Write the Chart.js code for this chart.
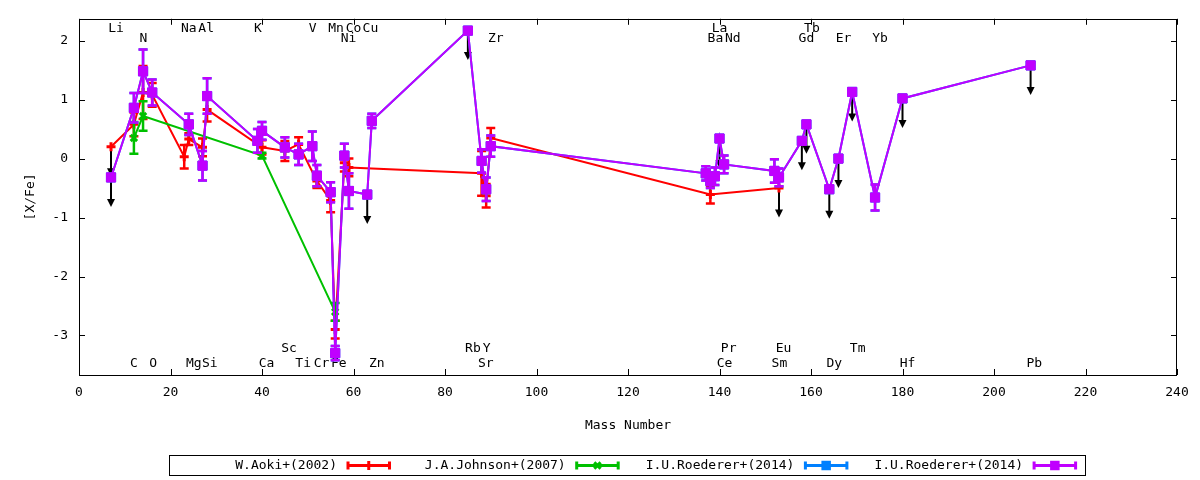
<!DOCTYPE html>
<html>
<head>
<meta charset="utf-8">
<script src="https://cdn.jsdelivr.net/npm/chart.js@4.4.1/dist/chart.umd.min.js"></script>
<style>
html,body{margin:0;padding:0;background:#fff;}
#wrap{width:1200px;height:480px;position:relative;}
</style>
</head>
<body>
<div id="wrap"><canvas id="c" width="1200" height="480"></canvas></div>
<script>
// ---------- texts & ticks ----------
const xTitle = 'Mass Number';
const yTitle = '[X/Fe]';
const xTicks = [0, 20, 40, 60, 80, 100, 120, 140, 160, 180, 200, 220, 240];
const yTicks = [-3, -2, -1, 0, 1, 2];
const seriesNames = ['W.Aoki+(2002)', 'J.A.Johnson+(2007)', 'I.U.Roederer+(2014)', 'I.U.Roederer+(2014)'];

// ---------- W.Aoki+(2002) ----------
const aokiMass   = [7, 12, 14, 16, 23, 24, 27, 28, 40, 45, 48, 52, 55, 56, 58, 59, 88, 89, 90, 138, 153];
const aokiVal    = [0.20, 0.58, 1.12, 1.08, 0.03, 0.33, 0.19, 0.83, 0.19, 0.13, 0.24, -0.38, -0.71, -2.90, -0.07, -0.15, -0.25, -0.63, 0.35, -0.61, -0.50];
const aokiErr    = [0, 0.20, 0.45, 0.20, 0.20, 0.10, 0.15, 0.20, 0.12, 0.17, 0.12, 0.12, 0.20, 0.15, 0.15, 0.15, 0.38, 0.20, 0.17, 0.15, 0];
const aokiLimits = [7, 153];

// ---------- J.A.Johnson+(2007) ----------
const johnsonMass = [12, 14, 40, 56];
const johnsonVal  = [0.35, 0.72, 0.05, -2.60];
const johnsonErr  = [0.27, 0.25, 0.05, 0.15];

// ---------- I.U.Roederer+(2014) ----------
const roedMass = [7, 12, 14, 16, 24, 27, 28, 39, 40, 45, 48, 51, 52, 55, 56, 58, 59, 63, 64,
                  85, 88, 89, 90, 137, 138, 139, 140, 141, 152, 153, 158, 159, 164, 166, 169, 174, 180, 208];
const roedVal  = [-0.32, 0.86, 1.48, 1.12, 0.58, -0.12, 1.06, 0.30, 0.47, 0.19, 0.07, 0.21, -0.29, -0.57, -3.30, 0.05, -0.55, -0.61, 0.64,
                  2.17, -0.04, -0.52, 0.21, -0.25, -0.38, -0.30, 0.34, -0.10, -0.21, -0.32, 0.30, 0.58, -0.52, 0.00, 1.13, -0.66, 1.02, 1.58];
const roedErr  = [0, 0.25, 0.37, 0.22, 0.18, 0.25, 0.30, 0.20, 0.15, 0.17, 0.18, 0.25, 0.18, 0.17, 0.12, 0.20, 0.30, 0, 0.12,
                  0, 0.20, 0.20, 0.18, 0.12, 0.12, 0.15, 0, 0.15, 0.20, 0.15, 0, 0, 0, 0, 0, 0.22, 0, 0];
const roedLimits = [7, 63, 85, 140, 158, 159, 164, 166, 169, 180, 208];

// ---------- element labels ----------
const elemNames = ['Li','Na','Al','K','V','Mn','Co','Cu','La','Tb',
                   'N','Ni','Zr','Ba','Nd','Gd','Er','Yb',
                   'Sc','Rb','Y','Pr','Eu','Tm',
                   'C','O','Mg','Si','Ca','Ti','Cr','Fe','Zn','Sr','Ce','Sm','Dy','Hf','Pb'];
const elemMass  = [8.1, 24.0, 27.8, 39.1, 51.1, 56.2, 60.0, 63.7, 140.0, 160.2,
                   14.1, 58.9, 91.1, 139.1, 142.9, 159.0, 167.1, 175.1,
                   45.9, 86.1, 89.1, 142.0, 154.0, 170.2,
                   12.0, 16.2, 25.1, 28.6, 41.0, 49.0, 53.0, 56.8, 65.1, 88.9, 141.1, 153.1, 165.1, 181.1, 208.8];
const elemLevel = [2.20, 2.20, 2.20, 2.20, 2.20, 2.20, 2.20, 2.20, 2.20, 2.20,
                   2.03, 2.03, 2.03, 2.03, 2.03, 2.03, 2.03, 2.03,
                   -3.23, -3.23, -3.23, -3.23, -3.23, -3.23,
                   -3.48, -3.48, -3.48, -3.48, -3.48, -3.48, -3.48, -3.48, -3.48, -3.48, -3.48, -3.48, -3.48, -3.48, -3.48];

const FONT = '"DejaVu Sans Mono", "Liberation Mono", monospace';
const pts = (m, v) => m.map((x, i) => ({x: x, y: v[i]}));

function mkSet(label, color, style, radius, m, v, e, lim, order) {
  return {
    label: label, data: pts(m, v), errors: e, limits: lim,
    showLine: true, tension: 0, fill: false,
    borderColor: color, backgroundColor: color, borderWidth: 2,
    pointStyle: style, pointRadius: radius, pointHoverRadius: radius,
    pointBorderColor: color, pointBackgroundColor: color,
    pointBorderWidth: style === 'rect' ? 1 : 3,
    order: order
  };
}

function drawMarker(ctx, style, color, cx, cy, r) {
  ctx.save();
  ctx.fillStyle = color; ctx.strokeStyle = color;
  if (style === 'rect') {
    const s = r * Math.SQRT1_2;
    ctx.fillRect(cx - s - 0.5, cy - s - 0.5, 2 * s + 1, 2 * s + 1);
  } else {
    ctx.lineWidth = 3;
    ctx.beginPath();
    if (style === 'cross') {
      ctx.moveTo(cx - r, cy); ctx.lineTo(cx + r, cy);
      ctx.moveTo(cx, cy - r); ctx.lineTo(cx, cy + r);
    } else {
      const d = r * Math.SQRT1_2;
      ctx.moveTo(cx - d, cy - d); ctx.lineTo(cx + d, cy + d);
      ctx.moveTo(cx - d, cy + d); ctx.lineTo(cx + d, cy - d);
    }
    ctx.stroke();
  }
  ctx.restore();
}

const ARROW_LEN = 0.5;

const gp = {
  id: 'gp',
  beforeDatasetsDraw(chart) {
    const ctx = chart.ctx, xs = chart.scales.x, ys = chart.scales.y;
    ctx.save();
    ctx.font = '13px ' + FONT;
    ctx.fillStyle = '#000';
    ctx.textAlign = 'center';
    ctx.textBaseline = 'middle';
    elemNames.forEach((n, i) => {
      ctx.fillText(n, xs.getPixelForValue(elemMass[i]), ys.getPixelForValue(elemLevel[i]));
    });
    // upper-limit arrows (behind the data)
    ctx.strokeStyle = '#000'; ctx.fillStyle = '#000'; ctx.lineWidth = 2;
    chart.data.datasets.forEach(ds => {
      (ds.limits || []).forEach(m => {
        const p = ds.data.find(d => d.x === m);
        if (!p) return;
        const px = xs.getPixelForValue(p.x);
        const y0 = ys.getPixelForValue(p.y);
        const y1 = ys.getPixelForValue(p.y - ARROW_LEN);
        ctx.beginPath(); ctx.moveTo(px, y0); ctx.lineTo(px, y1 - 6); ctx.stroke();
        ctx.beginPath();
        ctx.moveTo(px, y1); ctx.lineTo(px - 4, y1 - 8); ctx.lineTo(px + 4, y1 - 8); ctx.closePath();
        ctx.fill();
      });
    });
    ctx.restore();
  },
  beforeDatasetDraw(chart, args) {
    const ds = chart.data.datasets[args.index];
    if (!ds.errors) return;
    const ctx = chart.ctx, xs = chart.scales.x, ys = chart.scales.y;
    ctx.save();
    ctx.strokeStyle = ds.borderColor;
    ctx.lineWidth = 2.5;
    ctx.lineCap = 'butt';
    ds.data.forEach((p, i) => {
      const e = ds.errors[i];
      if (!e) return;
      const px = xs.getPixelForValue(p.x);
      const yt = ys.getPixelForValue(p.y + e);
      const yb = ys.getPixelForValue(p.y - e);
      ctx.beginPath();
      ctx.moveTo(px, yt); ctx.lineTo(px, yb);
      ctx.moveTo(px - 4.5, yt); ctx.lineTo(px + 4.5, yt);
      ctx.moveTo(px - 4.5, yb); ctx.lineTo(px + 4.5, yb);
      ctx.stroke();
    });
    ctx.restore();
  },
  afterDatasetsDraw(chart) {
    const ctx = chart.ctx, a = chart.chartArea, xs = chart.scales.x, ys = chart.scales.y;
    ctx.save();
    ctx.strokeStyle = '#000'; ctx.lineWidth = 1;
    ctx.strokeRect(Math.round(a.left) + 0.5, Math.round(a.top) + 0.5, Math.round(a.right - a.left) - 1, Math.round(a.bottom - a.top));
    ctx.beginPath();
    const T = 6;
    xTicks.forEach(v => {
      const px = Math.round(xs.getPixelForValue(v)) + 0.5;
      ctx.moveTo(px, a.bottom); ctx.lineTo(px, a.bottom - T);
      ctx.moveTo(px, a.top); ctx.lineTo(px, a.top + T);
    });
    yTicks.forEach(v => {
      const py = Math.round(ys.getPixelForValue(v)) + 0.5;
      ctx.moveTo(a.left, py); ctx.lineTo(a.left + T, py);
      ctx.moveTo(a.right, py); ctx.lineTo(a.right - T, py);
    });
    ctx.stroke();
    ctx.restore();
  },
  afterDraw(chart) {
    // key box below the plot (gnuplot style: text, then sample)
    const ctx = chart.ctx;
    const boxL = 169.5, boxR = 1085.5, boxT = 455.5, boxB = 475.5;
    const first = 347, step = 228.7, len = 43.5, cy = 465.5;
    ctx.save();
    ctx.strokeStyle = '#000'; ctx.lineWidth = 1;
    ctx.strokeRect(boxL, boxT, boxR - boxL, boxB - boxT);
    ctx.font = '13px ' + FONT;
    ctx.textAlign = 'right'; ctx.textBaseline = 'middle'; ctx.fillStyle = '#000';
    chart.data.datasets.forEach((ds, i) => {
      const sx = first + step * i;
      ctx.fillStyle = '#000';
      ctx.fillText(ds.label, sx - 10, cy);
      ctx.strokeStyle = ds.borderColor; ctx.lineWidth = 3;
      ctx.beginPath();
      ctx.moveTo(sx, cy); ctx.lineTo(sx + len, cy);
      ctx.moveTo(sx + 1, cy - 4); ctx.lineTo(sx + 1, cy + 4);
      ctx.moveTo(sx + len - 1, cy - 4); ctx.lineTo(sx + len - 1, cy + 4);
      ctx.stroke();
      drawMarker(ctx, ds.pointStyle, ds.borderColor, sx + len / 2, cy, ds.pointStyle === 'rect' ? 6 : 4.5);
    });
    ctx.restore();
  }
};

const datasets = [
  mkSet(seriesNames[0], '#ff0000', 'cross',    4.5, aokiMass,    aokiVal,    aokiErr,    aokiLimits, 4),
  mkSet(seriesNames[1], '#00c000', 'crossRot', 4.5, johnsonMass, johnsonVal, johnsonErr, [],         3),
  mkSet(seriesNames[2], '#0080ff', 'rect',     6.5, roedMass,    roedVal,    roedErr,    [],         2),
  mkSet(seriesNames[3], '#c000ff', 'rect',     6.5, roedMass,    roedVal,    roedErr,    roedLimits, 1)
];

new Chart(document.getElementById('c'), {
  type: 'scatter',
  data: { datasets: datasets },
  options: {
    responsive: false,
    animation: false,
    devicePixelRatio: 1,
    layout: { padding: { left: 0, right: 23, top: 17, bottom: 43 } },
    plugins: { legend: { display: false }, tooltip: { enabled: false } },
    scales: {
      x: {
        type: 'linear', min: 0, max: 240,
        afterBuildTicks: s => { s.ticks = xTicks.map(v => ({value: v})); },
        afterFit: s => { s.height = 62; },
        grid: { display: false, drawTicks: false },
        border: { display: false },
        ticks: { color: '#000', padding: 10, maxRotation: 0, font: { family: FONT, size: 13 } },
        title: { display: true, text: xTitle, color: '#000', font: { family: FONT, size: 13 }, padding: { top: 0, bottom: 4 } }
      },
      y: {
        type: 'linear', min: -3.67, max: 2.37,
        afterBuildTicks: s => { s.ticks = yTicks.map(v => ({value: v})); },
        afterFit: s => { s.width = 79; },
        grid: { display: false, drawTicks: false },
        border: { display: false },
        ticks: { color: '#000', padding: 11, font: { family: FONT, size: 13 } },
        title: { display: true, text: yTitle, color: '#000', font: { family: FONT, size: 13 }, padding: { top: 23, bottom: 0 } }
      }
    }
  },
  plugins: [gp]
});
</script>
</body>
</html>
